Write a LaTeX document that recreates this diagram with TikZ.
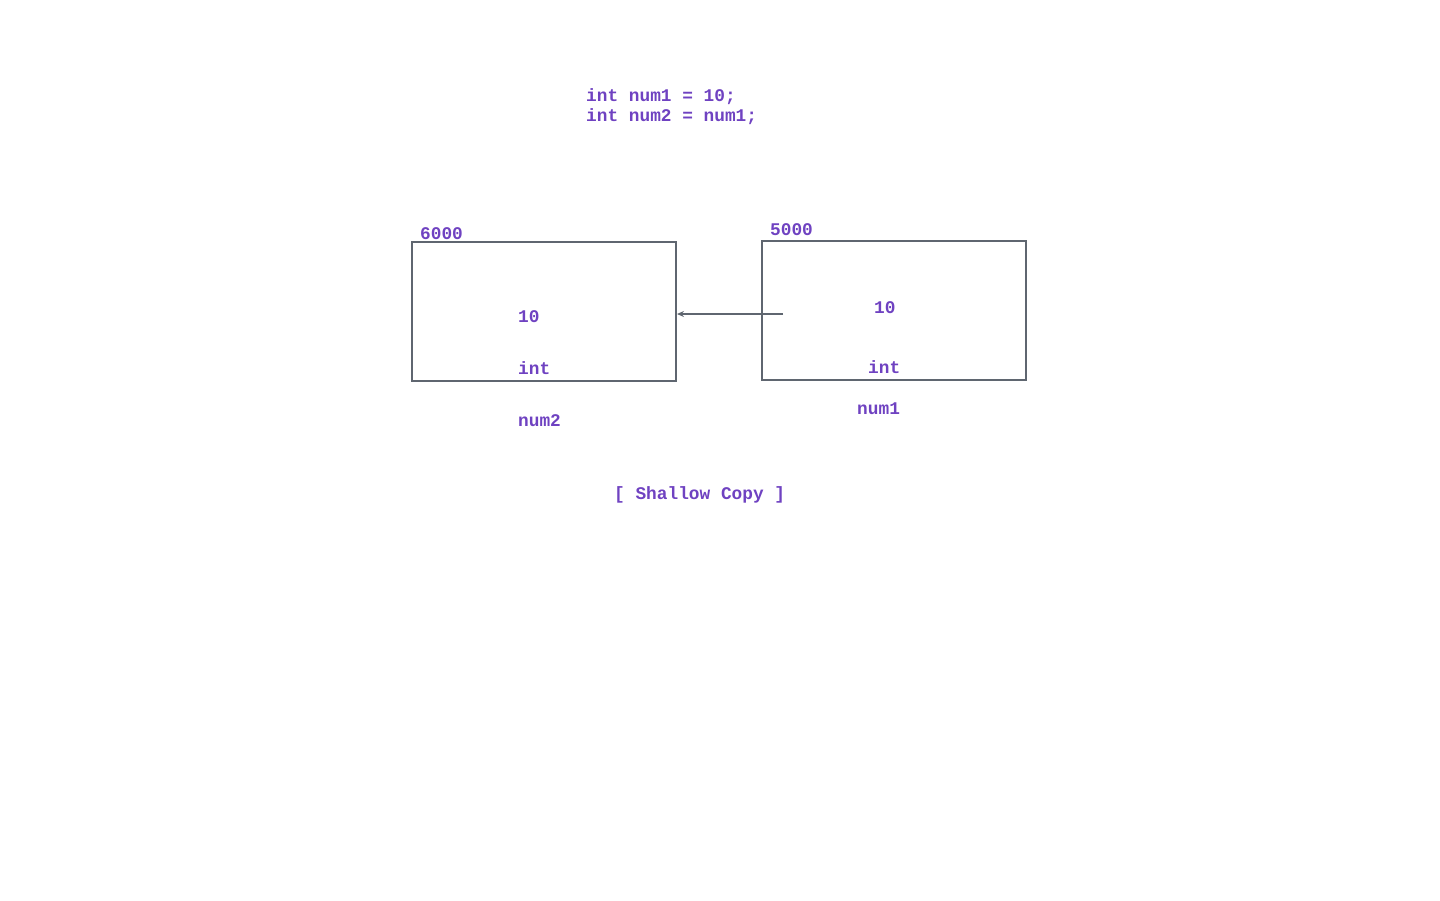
\documentclass[tikz,border=0pt]{standalone}
\usepackage{fontspec}
\setmonofont{Liberation Mono}
\usetikzlibrary{arrows.meta}
\definecolor{txt}{HTML}{6F42C1}
\definecolor{edge}{HTML}{5F6670}
\tikzset{
  lbl/.style={font=\ttfamily\bfseries\fontsize{17.8}{20}\selectfont, text=txt, anchor=west, inner sep=0pt, yshift=-0.5pt},
  cell/.style={draw=edge, line width=2pt, inner sep=0pt, anchor=north west},
  link/.style={draw=edge, line width=1.8pt, -{Stealth[length=7pt,width=6pt]}}
}
\begin{document}
\begin{tikzpicture}[x=1pt,y=-1pt]
\useasboundingbox (0,0) rectangle (1440,900);
\node[lbl] (code1) at (586,96) {int num1 = 10;};
\node[lbl] (code2) at (586,116) {int num2 = num1;};
\node[cell, minimum width=264pt, minimum height=139pt] (box2) at (411,241) {};
\node[cell, minimum width=264pt, minimum height=139pt] (box1) at (761,240) {};
\node[lbl] (addr2) at (420,233) {6000};
\node[lbl] (addr1) at (770,229) {5000};
\node[lbl] (val2) at (518,316) {10};
\node[lbl] (type2) at (518,368) {int};
\node[lbl] (name2) at (518,420) {num2};
\node[lbl] (val1) at (874,307) {10};
\node[lbl] (type1) at (868,367) {int};
\node[lbl] (name1) at (857,408) {num1};
\coordinate (src) at (783,314);
\draw[link] (src) -- (src -| box2.east);
\node[lbl] (caption) at (614,494) {[ Shallow Copy ]};
\end{tikzpicture}
\end{document}
